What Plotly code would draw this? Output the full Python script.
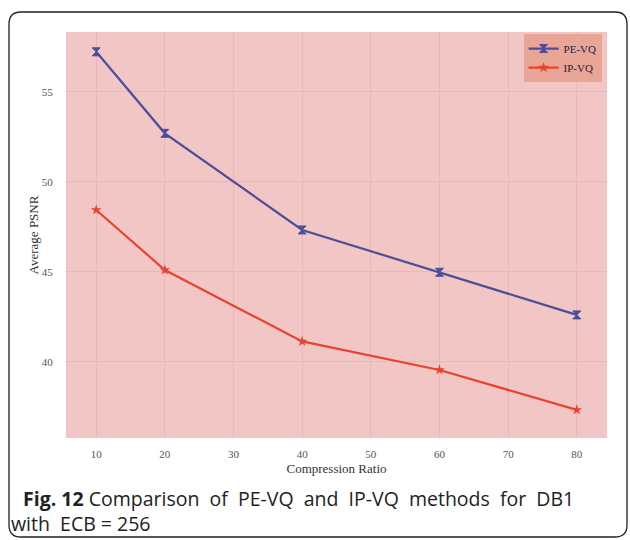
import plotly.graph_objects as go

ratios = [10, 20, 40, 60, 80]
pe_vq = [57.22, 52.69, 47.32, 44.97, 42.6]
ip_vq = [48.43, 45.09, 41.13, 39.54, 37.32]
x_ticks = [10, 20, 30, 40, 50, 60, 70, 80]
y_ticks = [40, 45, 50, 55]

W, H = 630, 540
ML, MR, MT, MB = 66, 23, 32, 102
pw, ph = W - ML - MR, H - MT - MB

def px(x):
    return (x - ML) / pw

def py(y):
    return (H - MB - y) / ph

fig = go.Figure()
fig.add_trace(go.Scatter(
    x=ratios, y=pe_vq, name="PE-VQ", mode="lines+markers",
    line=dict(color="#4a4f98", width=2.2),
    marker=dict(symbol="hourglass", size=8, color="#4a4f98",
                line=dict(color="#4a4f98", width=1))))
fig.add_trace(go.Scatter(
    x=ratios, y=ip_vq, name="IP-VQ", mode="lines+markers",
    line=dict(color="#e8432e", width=2.2),
    marker=dict(symbol="star", size=8, color="#e8432e")))

# card border with rounded corners
x0, x1, y0, y1, r = 9, 627, 12, 537, 12
path = (f"M {px(x0 + r)},{py(y0)} L {px(x1 - r)},{py(y0)} "
        f"Q {px(x1)},{py(y0)} {px(x1)},{py(y0 + r)} "
        f"L {px(x1)},{py(y1 - r)} Q {px(x1)},{py(y1)} {px(x1 - r)},{py(y1)} "
        f"L {px(x0 + r)},{py(y1)} Q {px(x0)},{py(y1)} {px(x0)},{py(y1 - r)} "
        f"L {px(x0)},{py(y0 + r)} Q {px(x0)},{py(y0)} {px(x0 + r)},{py(y0)} Z")
fig.add_shape(type="path", path=path, xref="paper", yref="paper",
              line=dict(color="#222222", width=1.3), layer="below")

fig.add_annotation(
    x=px(21), y=py(498), xref="paper", yref="paper", xanchor="left", yanchor="middle",
    text="<b>Fig. 12</b> Comparison  of  PE-VQ  and  IP-VQ  methods  for  DB1",
    showarrow=False, font=dict(family="Open Sans", size=19.5, color="#222222"))
fig.add_annotation(
    x=px(9), y=py(523), xref="paper", yref="paper", xanchor="left", yanchor="middle",
    text="with  ECB = 256",
    showarrow=False, font=dict(family="Open Sans", size=19.5, color="#222222"))

fig.update_layout(
    width=W, height=H,
    margin=dict(l=ML, r=MR, t=MT, b=MB),
    paper_bgcolor="white",
    plot_bgcolor="#f3c6c6",
    showlegend=True,
    legend=dict(x=0.99, y=0.995, xanchor="right", yanchor="top",
                bgcolor="#e9a696", borderwidth=0,
                font=dict(family="Liberation Serif", size=11, color="#222244"),
                tracegroupgap=2, itemwidth=30),
    xaxis=dict(range=[5.6, 84.4], tickvals=x_ticks, showgrid=True,
               gridcolor="#e8b7bc", gridwidth=1, zeroline=False, showline=False,
               ticks="outside", ticklen=6, tickcolor="rgba(0,0,0,0)",
               tickfont=dict(family="Liberation Serif", size=11, color="#555555"),
               title=dict(text="Compression Ratio", standoff=4,
                          font=dict(family="Liberation Serif", size=13, color="#333333"))),
    yaxis=dict(range=[35.76, 58.32], tickvals=y_ticks, showgrid=True,
               gridcolor="#e8b7bc", gridwidth=1, zeroline=False, showline=False,
               ticks="outside", ticklen=10, tickcolor="rgba(0,0,0,0)",
               tickfont=dict(family="Liberation Serif", size=11, color="#555555"),
               title=dict(text="Average PSNR", standoff=0,
                          font=dict(family="Liberation Serif", size=13, color="#333333"))),
)

fig.write_html("out.html")
